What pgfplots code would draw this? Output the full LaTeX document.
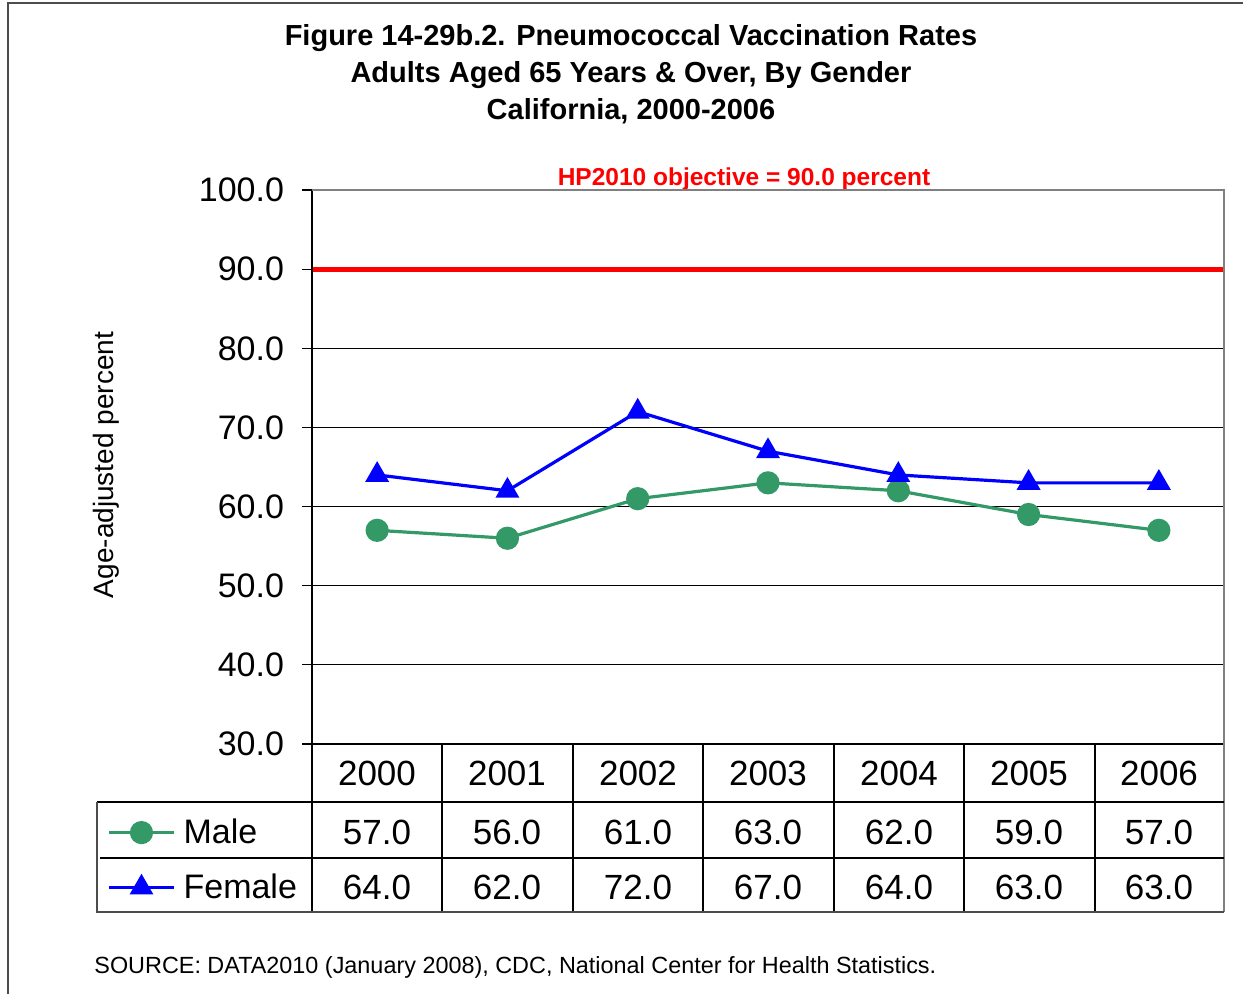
\documentclass[border=0pt]{standalone}
\usepackage{pgfplots}
\pgfplotsset{compat=1.18}
\usepackage{fontspec}
\setmainfont{Liberation Sans}
\definecolor{male}{HTML}{339966}
\definecolor{female}{HTML}{0000FF}
\definecolor{hpred}{HTML}{FF0000}
\definecolor{bord}{HTML}{808080}
\begin{document}
\begin{tikzpicture}
\begin{scope}[x=0.5pt,y=-0.5pt]
\useasboundingbox (0,0) rectangle (1243,993);
\draw[black!70, line width=0.6pt] (8,1000) -- (8,3) -- (1250,3);
\node[font=\fontsize{14.5}{18.5}\selectfont\bfseries, align=center] at (631,74)
  {Figure 14-29b.2. Pneumococcal Vaccination Rates\\Adults Aged 65 Years \& Over, By Gender\\California, 2000-2006};
\node[font=\fontsize{12.25}{12.25}\selectfont\bfseries, text=hpred] at (744,179) {HP2010 objective = 90.0 percent};
\node[font=\fontsize{14}{14}\selectfont, rotate=90] at (106,465) {Age-adjusted percent};
\node[font=\fontsize{11.7}{11.7}\selectfont, anchor=west, inner sep=0pt] at (94,967)
  {SOURCE: DATA2010 (January 2008), CDC, National Center for Health Statistics.};
\end{scope}
\begin{axis}[
  at={(156pt,-372pt)}, anchor=south west,
  scale only axis, width=456pt, height=277pt,
  xmin=-0.5, xmax=6.5, ymin=30, ymax=100,
  clip=false,
  axis line style={draw=none},
  xtick=\empty,
  ytick={30,40,...,100},
  ytick pos=left, tick align=outside, major tick length=5pt,
  ytick style={black, line width=0.6pt},
  ymajorgrids, major grid style={black, line width=0.5pt},
  yticklabel style={font=\fontsize{17}{17}\selectfont, xshift=-5.5pt,
    /pgf/number format/.cd, fixed, fixed zerofill, precision=1, assume math mode=true},
  legend style={at={(axis description cs:-0.2248,-0.1357)}, anchor=north west,
    draw=none, fill=none, inner sep=0pt, row sep=11.5pt,
    font=\fontsize{17}{17}\selectfont,
    nodes={inner sep=0pt, text height=12pt, text depth=4pt}},
  legend cell align=left,
  legend image code/.code={%
    \draw[mark repeat=2,mark phase=2] plot coordinates {(0pt,1.5pt)(16.25pt,1.5pt)(32.5pt,1.5pt)};
    \path (36.5pt,1.5pt);},
]
\addplot[hpred, line width=2.5pt, forget plot] coordinates {(-0.5,90) (6.5,90)};
\addplot[male, line width=1.6pt, mark=*, mark size=5pt, mark options={solid, fill=male}]
  coordinates {(0,57) (1,56) (2,61) (3,63) (4,62) (5,59) (6,57)};
\addplot[female, line width=1.6pt, mark=triangle*, mark size=5.3pt, mark options={solid, fill=female}]
  coordinates {(0,64) (1,62) (2,72) (3,67) (4,64) (5,63) (6,63)};
\legend{Male, Female}
\end{axis}
\begin{scope}[x=0.5pt,y=-0.5pt]
% plot frame
\draw[black, line width=0.7pt] (312,190) -- (312,744) -- (1224,744);
\draw[bord, line width=0.8pt] (312,190) -- (1224,190) -- (1224,912);
% table
\foreach \xx in {312,442,573,703,834,964,1095}
  \draw[black, line width=0.7pt] (\xx,744) -- (\xx,912);
\draw[black, line width=0.7pt] (97,802) -- (1224,802);
\draw[black, line width=0.7pt] (100,858) -- (1224,858);
\draw[black!70, line width=0.8pt] (97,802) -- (97,912) -- (1224,912);
\foreach \cx/\yr/\m/\f in {377/2000/57.0/64.0, 507/2001/56.0/62.0, 638/2002/61.0/72.0,
  768/2003/63.0/67.0, 899/2004/62.0/64.0, 1029/2005/59.0/63.0, 1159/2006/57.0/63.0} {
  \node[font=\fontsize{17.5}{17.5}\selectfont] at (\cx,773) {\yr};
  \node[font=\fontsize{17.5}{17.5}\selectfont] at (\cx,832) {\m};
  \node[font=\fontsize{17.5}{17.5}\selectfont] at (\cx,887) {\f};
}
\end{scope}
\end{tikzpicture}
\end{document}
